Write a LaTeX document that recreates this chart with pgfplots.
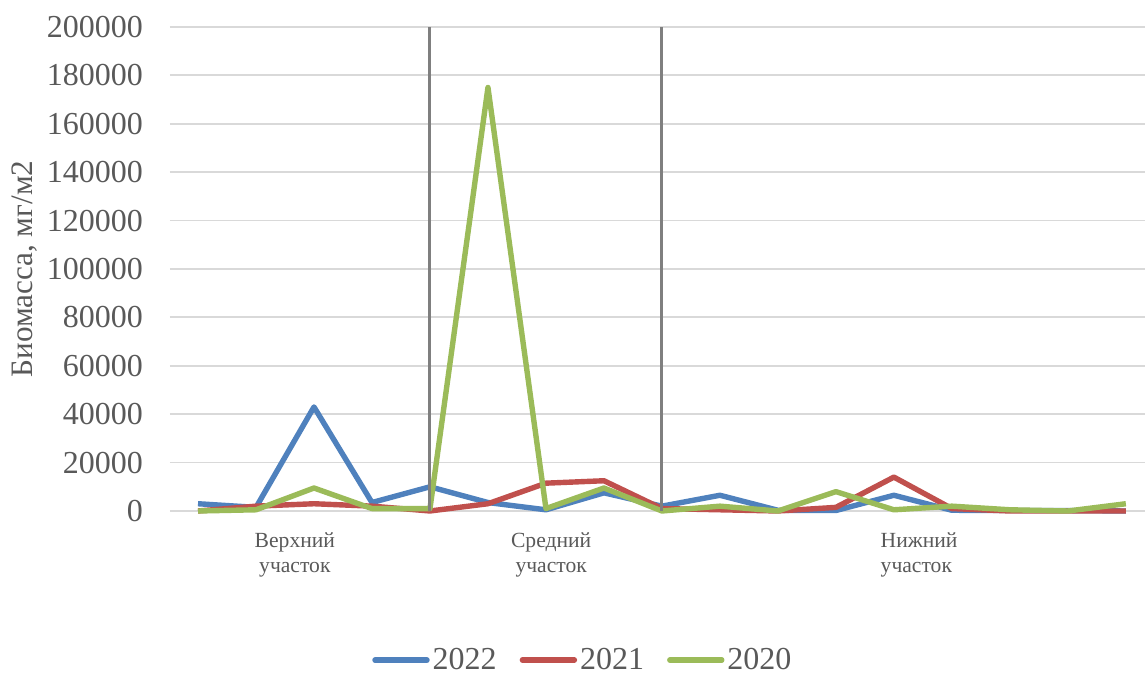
\documentclass[border=0pt]{standalone}
\usepackage{fontspec}
\setmainfont{Liberation Serif}
\usepackage{pgfplots}
\pgfplotsset{compat=1.18}
\definecolor{cA}{HTML}{4F81BD}
\definecolor{cB}{HTML}{C0504D}
\definecolor{cC}{HTML}{9BBB59}
\definecolor{gridc}{HTML}{D9D9D9}
\definecolor{txt}{HTML}{595959}
\definecolor{vline}{HTML}{7F7F7F}
\begin{document}
\begin{tikzpicture}
\begin{axis}[
  scale only axis, width=487.5pt, height=242pt,
  xmin=-0.483, xmax=16.33, ymin=0, ymax=200000,
  xtick=\empty, ytick={0,20000,...,200000},
  ymajorgrids, grid style={draw=gridc, line width=0.9pt},
  axis line style={draw=none}, major tick length=0pt,
  clip=false,
  scaled y ticks=false,
  yticklabel style={font=\fontsize{16}{19}\selectfont, text=txt, xshift=-10pt,
    /pgf/number format/.cd, fixed, 1000 sep={}, assume math mode=true},
  ylabel={Биомасса, мг/м2},
  ylabel style={at={(axis description cs:-0.1487,0.5)}, anchor=center, font=\fontsize{15.6}{18}\selectfont, text=txt},
  legend columns=3,
  legend style={draw=none, fill=none, at={(axis description cs:0.424,-0.308)}, anchor=center,
    font=\fontsize{16}{19}\selectfont, text=txt,
    /tikz/every even column/.append style={column sep=10pt},
    nodes={inner sep=1.5pt}},
  legend image code/.code={\draw[#1, line width=2.7pt, line cap=round] (0pt,0pt) -- (26pt,0pt);},
  every axis plot/.append style={line width=2.7pt, line join=round, mark=none},
]
\addplot[cA] coordinates {(0,3000) (1,1500) (2,43000) (3,3500) (4,10000) (5,3500) (6,500) (7,7500) (8,2000) (9,6500) (10,300) (11,200) (12,6500) (13,300) (14,200) (15,200) (16,0)};
\addlegendentry{2022}
\addplot[cB] coordinates {(0,0) (1,2000) (2,3000) (3,2000) (4,0) (5,3000) (6,11500) (7,12500) (8,1000) (9,500) (10,0) (11,1500) (12,14000) (13,1000) (14,0) (15,0) (16,0)};
\addlegendentry{2021}
\addplot[cC] coordinates {(0,0) (1,500) (2,9500) (3,1000) (4,1000) (5,175000) (6,1000) (7,9500) (8,0) (9,2000) (10,0) (11,8000) (12,500) (13,2000) (14,500) (15,0) (16,3000)};
\addlegendentry{2020}
\draw[vline, line width=1.5pt] (axis cs:4,0) -- (axis cs:4,200000);
\draw[vline, line width=1.5pt] (axis cs:8,0) -- (axis cs:8,200000);
\node[font=\fontsize{10.8}{12.5}\selectfont, text=txt, align=center] at (axis cs:1.67,0) [yshift=-22pt] {Верхний\\участок};
\node[font=\fontsize{10.8}{12.5}\selectfont, text=txt, align=center] at (axis cs:6.09,0) [yshift=-22pt] {Средний\\участок};
\node[font=\fontsize{10.8}{12.5}\selectfont, text=txt, align=left, anchor=west] at (axis cs:11.72,0) [yshift=-22pt, xshift=-2pt] {Нижний\\участок};
\end{axis}
\pgfresetboundingbox
\path[use as bounding box] (-85pt,-83.5pt) rectangle (487.5pt,255.5pt);
\end{tikzpicture}
\end{document}
